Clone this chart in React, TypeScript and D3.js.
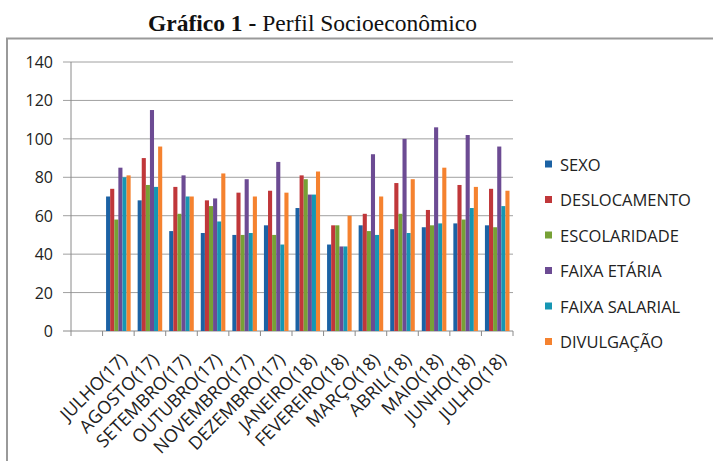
import React from 'react';
import * as d3 from 'd3';

const months = [
  'JULHO(17)', 'AGOSTO(17)', 'SETEMBRO(17)', 'OUTUBRO(17)', 'NOVEMBRO(17)',
  'DEZEMBRO(17)', 'JANEIRO(18)', 'FEVEREIRO(18)', 'MARÇO(18)', 'ABRIL(18)',
  'MAIO(18)', 'JUNHO(18)', 'JULHO(18)',
];

const seriesNames = ['SEXO', 'DESLOCAMENTO', 'ESCOLARIDADE', 'FAIXA ETÁRIA', 'FAIXA SALARIAL', 'DIVULGAÇÃO'];
const seriesColors = ['#1c62a4', '#c0373a', '#77a136', '#6c4b93', '#1696b3', '#f5822f'];

const sexo = [70, 68, 52, 51, 50, 55, 64, 45, 55, 53, 54, 56, 55];
const deslocamento = [74, 90, 75, 68, 72, 73, 81, 55, 61, 77, 63, 76, 74];
const escolaridade = [58, 76, 61, 65, 50, 50, 79, 55, 52, 61, 55, 58, 54];
const faixaEtaria = [85, 115, 81, 69, 79, 88, 71, 44, 92, 100, 106, 102, 96];
const faixaSalarial = [80, 75, 70, 57, 51, 45, 71, 44, 50, 51, 56, 64, 65];
const divulgacao = [81, 96, 70, 82, 70, 72, 83, 60, 70, 79, 85, 75, 73];

const yTicks = [0, 20, 40, 60, 80, 100, 120, 140];

const allSeries = [sexo, deslocamento, escolaridade, faixaEtaria, faixaSalarial, divulgacao];

const W = 713;
const H = 461;
const plot = { left: 71, right: 513, top: 62, bottom: 331 };
const font = "'Open Sans', 'Liberation Sans', sans-serif";

export default function App() {
  // first slot of the category axis is empty in the original
  const x0 = d3.scaleBand<string>()
    .domain(['', ...months])
    .range([plot.left, plot.right]);

  const step = x0.bandwidth();
  const x1 = d3.scaleBand<number>()
    .domain(d3.range(seriesNames.length))
    .range([3.5, step - 3.5]);

  const y = d3.scaleLinear()
    .domain([0, 140])
    .range([plot.bottom, plot.top]);

  const tickXs = ['', ...months].map(m => x0(m) as number).concat([plot.right]);

  return (
    <svg width={W} height={H} style={{ position: 'absolute', left: 0, top: 0, background: '#fff' }}>
      {/* outer frame */}
      <rect x={7} y={38.5} width={W} height={H} fill="none" stroke="#9a9a9a" strokeWidth={2} />

      <text x={148} y={31} fontFamily="'Liberation Serif', 'Times New Roman', serif" fontSize={23.5} fill="#111">
        <tspan fontWeight="bold">Gráfico 1 -</tspan>
        <tspan> Perfil Socioeconômico</tspan>
      </text>

      {/* gridlines + y axis */}
      {yTicks.map(t => (
        <g key={t}>
          <line x1={plot.left - 8} x2={plot.right} y1={y(t)} y2={y(t)}
            stroke={t === 0 ? '#8a8a8a' : '#a0a0a0'} strokeWidth={1} />
          <text x={53} y={y(t)} textAnchor="end" dominantBaseline="central"
            fontFamily={font} fontSize={16} fill="#222">{t}</text>
        </g>
      ))}
      <line x1={plot.left} x2={plot.left} y1={plot.top} y2={plot.bottom} stroke="#8a8a8a" />

      {tickXs.map((tx, i) => (
        <line key={i} x1={tx} x2={tx} y1={plot.bottom} y2={plot.bottom + 5} stroke="#8a8a8a" />
      ))}

      {/* bars */}
      {months.map((m, i) => (
        <g key={m} transform={`translate(${x0(m)},0)`}>
          {allSeries.map((s, k) => (
            <rect key={k} x={x1(k)} width={x1.bandwidth()} y={y(s[i])}
              height={y(0) - y(s[i])} fill={seriesColors[k]} />
          ))}
        </g>
      ))}

      {/* x labels */}
      {months.map(m => {
        const cx = (x0(m) as number) + step / 2;
        return (
          <text key={m} transform={`translate(${cx + 10},${plot.bottom + 30}) rotate(-45)`}
            textAnchor="end" fontFamily={font} fontSize={18} fill="#222">{m}</text>
        );
      })}

      {/* legend */}
      {seriesNames.map((n, k) => {
        const ly = 164 + k * 35.5;
        return (
          <g key={n}>
            <rect x={545} y={ly - 3.5} width={7} height={7} fill={seriesColors[k]} />
            <text x={560} y={ly} dominantBaseline="central" fontFamily={font} fontSize={16.5} fill="#222">{n}</text>
          </g>
        );
      })}
    </svg>
  );
}
